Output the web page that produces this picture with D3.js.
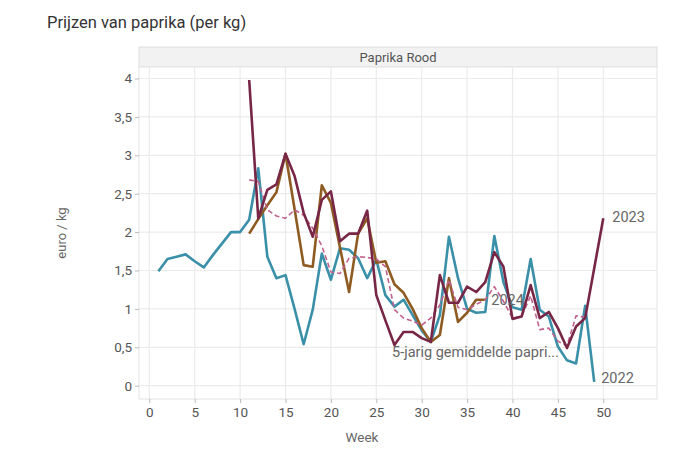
<!DOCTYPE html>
<html><head><meta charset="utf-8">
<script src="https://cdn.jsdelivr.net/npm/d3@7"></script>
<style>body{margin:0;background:#fff;font-family:Roboto,"Noto Sans",sans-serif;}</style>
</head><body><svg id="c" width="700" height="450"></svg>
<script>
const weeks2022 = d3.range(1,50);
const vals2022 = [1.49,1.65,1.68,1.71,1.62,1.54,1.70,1.85,2.0,2.0,2.16,2.83,1.68,1.40,1.44,1.0,0.54,0.99,1.72,1.38,1.79,1.77,1.66,1.40,1.64,1.18,1.03,1.12,0.92,0.72,0.57,0.92,1.94,1.40,1.00,0.95,0.96,1.95,1.35,1.02,0.99,1.65,0.99,0.90,0.51,0.33,0.29,1.04,0.05];
const weeks2023 = d3.range(11,51);
const vals2023 = [3.98,2.18,2.55,2.62,3.02,2.73,2.25,1.94,2.42,2.53,1.88,1.98,1.98,2.28,1.18,0.85,0.53,0.70,0.70,0.62,0.57,1.44,1.08,1.08,1.29,1.22,1.35,1.74,1.55,0.87,0.90,1.31,0.88,0.96,0.75,0.49,0.77,0.88,1.53,2.18];
const weeks2024 = d3.range(11,38);
const vals2024 = [1.98,2.17,2.35,2.52,3.02,2.30,1.57,1.55,2.61,2.38,1.80,1.22,1.98,2.18,1.60,1.62,1.32,1.21,1.00,0.75,0.57,0.66,1.40,0.83,0.95,1.12,1.12];
const weeksAvg = d3.range(11,49);
const valsAvg = [2.68,2.66,2.29,2.21,2.18,2.29,2.22,2.05,1.82,1.48,1.46,1.66,1.68,1.67,1.65,1.55,0.99,0.88,0.84,0.79,0.88,1.05,1.38,1.02,0.99,1.06,1.12,1.29,1.10,0.88,0.90,1.17,0.73,0.75,0.58,0.52,0.91,0.89];
const xTicks = d3.range(0,51,5);
const yTicks = d3.range(0,4.01,0.5);
const labelTitle = "Prijzen van paprika (per kg)";
const stripLabel = "Paprika Rood";

const svg = d3.select("#c");
const L=139,R=657,T=67,B=399;
const x = d3.scaleLinear().domain([(L-149.3)/9.08,(R-149.3)/9.08]).range([L,R]);
const y = d3.scaleLinear().domain([(385.7-B)/76.8,(385.7-T)/76.8]).range([B,T]);
const fmt = v => String(v).replace(".",",");

svg.append("text").attr("x",47).attr("y",28).attr("font-size",16.5).attr("fill","#333").text(labelTitle);

// strip
svg.append("rect").attr("x",L).attr("y",47).attr("width",R-L).attr("height",T-47).attr("fill","#f2f2f2").attr("stroke","#dedede");
svg.append("text").attr("x",(L+R)/2).attr("y",61.5).attr("text-anchor","middle").attr("font-size",13).attr("fill","#555").text(stripLabel);

// panel
svg.append("rect").attr("x",L).attr("y",T).attr("width",R-L).attr("height",B-T).attr("fill","#fff").attr("stroke","#e3e3e3");
const g = svg.append("g");
g.selectAll(".gx").data(xTicks).join("line").attr("x1",d=>x(d)).attr("x2",d=>x(d)).attr("y1",T).attr("y2",B).attr("stroke","#ebebeb").attr("stroke-width",1.2);
g.selectAll(".gy").data(yTicks).join("line").attr("x1",L).attr("x2",R).attr("y1",d=>y(d)).attr("y2",d=>y(d)).attr("stroke","#ebebeb").attr("stroke-width",1.2);

const xa = svg.append("g").attr("transform",`translate(0,${B})`).call(d3.axisBottom(x).tickValues(xTicks).tickSize(4).tickPadding(4).tickFormat(d=>d));
const ya = svg.append("g").attr("transform",`translate(${L},0)`).call(d3.axisLeft(y).tickValues(yTicks).tickSize(4).tickPadding(3).tickFormat(fmt));
[xa,ya].forEach(a=>{a.select(".domain").remove();a.selectAll("line").attr("stroke","#bbb");a.selectAll("text").attr("fill","#555").attr("font-size",13.5).attr("font-family","Roboto,sans-serif");});

svg.append("text").attr("x",(L+R)/2-36).attr("y",442).attr("text-anchor","middle").attr("font-size",13.5).attr("fill","#666").text("Week");
svg.append("text").attr("transform","translate(66,233) rotate(-90)").attr("text-anchor","middle").attr("font-size",13).attr("fill","#666").text("euro / kg");

const line = d3.line().x(d=>x(d[0])).y(d=>y(d[1]));
const z = (w,v)=>w.map((d,i)=>[d,v[i]]);
const series = [
  {d:z(weeks2022,vals2022),c:"#3a8fa9",w:2.6,dash:null},
  {d:z(weeks2024,vals2024),c:"#8e5b22",w:2.6,dash:null},
  {d:z(weeksAvg,valsAvg),c:"#c0608c",w:1.6,dash:"5,3"},
  {d:z(weeks2023,vals2023),c:"#782646",w:2.6,dash:null}
];
series.forEach(s=>{
  svg.append("path").datum(s.d).attr("d",line).attr("fill","none").attr("stroke",s.c).attr("stroke-width",s.w).attr("stroke-linejoin","round").attr("stroke-dasharray",s.dash);
});

const lab = (tx,ty,t)=>svg.append("text").attr("x",tx).attr("y",ty).attr("font-size",14.5).attr("fill","#666").text(t);
lab(x(50)+9, y(2.18)+4, "2023");
lab(x(37)+6, y(1.12)+5, "2024");
lab(x(49)+7, y(0.05)+1, "2022");
lab(392, 357, "5-jarig gemiddelde papri...");
</script></body></html>
